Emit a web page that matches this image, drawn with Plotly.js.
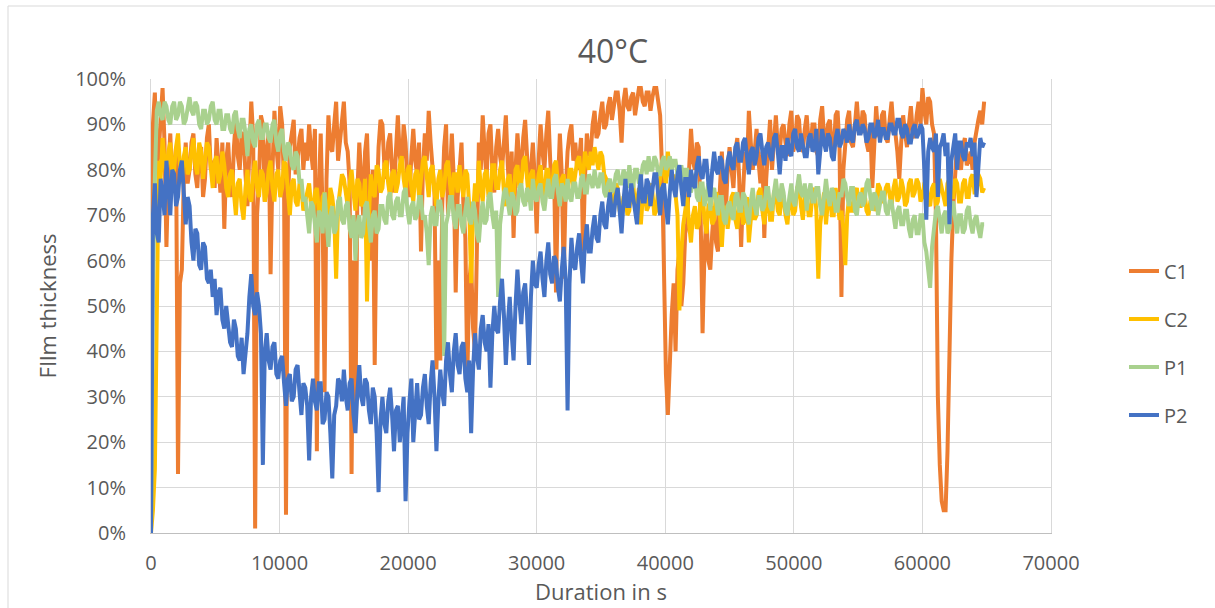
<!DOCTYPE html>
<html><head><meta charset="utf-8">
<script src="https://cdn.plot.ly/plotly-3.0.1.min.js"></script>
<style>html,body{margin:0;padding:0;background:#fff}#chart{width:1215px;height:608px}</style>
</head><body><div id="chart"></div>
<script>
// Sampling interval of the readings (seconds)
const STEP_S = 150;
const seriesNames = ['C1', 'C2', 'P1', 'P2'];
const seriesColors = ['#ED7D31', '#FFC000', '#A9D18E', '#4472C4'];

// Film thickness (%), one value per STEP_S seconds (one row = 3000 s)
const C1 = [
 60,90, 97,80, 84,92, 98,86, 63,80, 88,76, 80,85, 13,55, 58,78, 86,77,
 80,86, 88,79, 76,84, 85,74, 78,87, 90,80, 82,76, 87,81, 75,86, 67,82,
 86,78, 74,85, 91,83, 80,88, 88,79, 72,84, 95,87, 1,70, 78,92, 90,73,
 84,88, 57,80, 93,85, 80,94, 90,76, 4,72, 85,88, 91,79, 82,87, 89,80,
 86,82, 90,84, 80,89, 18,75, 88,70, 31,78, 92,85, 84,90, 95,82, 86,91,
 95,86, 84,77, 13,60, 25,75, 86,78, 70,84, 88,74, 60,80, 37,72, 85,91,
 90,81, 78,86, 88,80, 75,84, 92,83, 80,90, 86,77, 74,83, 89,82, 79,86,
 62,80, 88,82, 93,86, 80,75, 36,60, 38,72, 85,90, 70,80, 88,78, 53,74,
 82,86, 72,65, 34,55, 60,45, 40,70, 86,80, 92,84, 78,88, 90,80, 75,85,
 89,83, 80,86, 92,81, 73,84, 65,80, 88,82, 78,87, 91,83, 74,80, 86,78,
 66,82, 90,84, 80,88, 93,82, 75,80, 53,76, 88,79, 56,75, 84,88, 90,82,
 86,80, 82,87, 62,78, 88,83, 84,90, 93,87, 88,92, 95,89, 90,94, 96,91,
 94,97, 97,93, 86,95, 98,94, 93,96, 97,92, 95,98, 98,95, 94,97, 97,93,
 96,98, 98,94, 92,80, 51,35, 26,38, 48,55, 40,58, 62,50, 55,66, 68,80,
 89,82, 80,86, 85,70, 44,62, 70,60, 58,66, 72,64, 62,76, 84,73, 70,80,
 85,80, 76,84, 87,78, 63,75, 84,80, 93,86, 80,84, 89,82, 77,84, 65,78,
 86,91, 80,87, 92,85, 84,89, 90,86, 83,90, 93,84, 86,92, 91,85, 84,89,
 92,86, 85,90, 90,84, 83,91, 94,87, 86,90, 91,85, 84,92, 93,85, 52,80,
 87,91, 93,86, 85,90, 95,89, 88,93, 92,86, 84,90, 76,85, 94,88, 87,92,
 93,87, 86,91, 95,89, 88,84, 78,86, 92,88, 85,90, 94,88, 87,92, 95,90,
 98,93, 90,96, 95,90, 88,70, 30,15, 7,5, 5,18, 40,60, 72,80, 86,82,
 80,85, 87,81, 82,84, 80,86, 89,91, 93,90, 95
];
const C2 = [
 0,5, 14,45, 82,78, 87,82, 78,84, 86,79, 80,85, 88,81, 77,83, 85,79,
 80,84, 87,81, 79,86, 84,78, 82,86, 85,80, 76,82, 83,77, 79,84, 81,76,
 74,79, 80,75, 70,77, 78,72, 69,76, 80,74, 73,79, 82,76, 74,80, 79,73,
 75,80, 82,76, 73,79, 80,74, 76,82, 81,75, 70,77, 78,73, 72,77, 76,71,
 73,76, 77,72, 70,75, 76,71, 69,74, 75,70, 71,76, 74,70, 56,72, 75,79,
 78,74, 72,77, 80,75, 71,78, 77,72, 73,78, 51,70, 79,75, 74,81, 80,75,
 76,81, 82,77, 74,79, 80,75, 77,81, 83,78, 75,80, 81,76, 73,79, 80,74,
 78,82, 83,77, 74,80, 81,75, 72,78, 80,74, 76,81, 82,77, 73,79, 79,75,
 81,77, 74,80, 79,72, 55,70, 77,73, 82,76, 73,79, 80,74, 75,81, 81,76,
 76,80, 82,75, 72,78, 79,73, 74,80, 81,76, 77,82, 83,78, 73,79, 80,75,
 75,79, 81,76, 73,80, 80,74, 76,81, 82,77, 72,78, 79,74, 74,80, 80,76,
 79,82, 83,79, 78,84, 82,80, 84,81, 85,82, 80,84, 83,79, 78,75, 76,72,
 72,77, 76,71, 70,74, 75,70, 71,76, 77,72, 73,76, 68,74, 76,71, 72,77,
 75,70, 71,76, 78,82, 80,77, 84,80, 76,79, 73,70, 49,62, 68,72, 74,68,
 64,70, 72,67, 68,74, 75,69, 66,72, 73,68, 69,75, 74,70, 63,71, 72,67,
 70,74, 75,69, 67,72, 73,68, 69,74, 64,70, 74,69, 70,75, 76,71, 68,73,
 73,69, 69,75, 76,71, 70,74, 74,70, 68,73, 75,70, 71,76, 77,72, 69,74,
 74,70, 70,75, 76,71, 56,68, 72,75, 68,73, 75,70, 70,76, 73,69, 71,67,
 59,70, 74,71, 71,75, 76,72, 72,76, 75,71, 70,73, 74,71, 72,77, 76,73,
 73,76, 77,74, 72,76, 78,73, 74,78, 76,72, 73,77, 78,74, 75,78, 77,73,
 74,77, 78,73, 72,76, 77,72, 73,78, 76,73, 72,77, 78,74, 74,78, 77,73,
 73,77, 78,74, 74,78, 79,75, 75,79, 78,75, 76
];
const P1 = [
 0,55, 78,93, 95,92, 91,95, 94,91, 90,94, 95,91, 92,95, 94,90, 91,94,
 96,93, 92,95, 94,90, 89,93, 93,90, 91,94, 95,91, 90,93, 93,89, 89,92,
 92,89, 88,92, 93,89, 87,91, 91,88, 83,89, 90,86, 85,90, 91,87, 87,90,
 90,87, 86,90, 91,86, 84,88, 89,84, 82,86, 85,81, 80,84, 83,77, 78,73,
 74,70, 66,73, 72,68, 64,71, 70,66, 75,69, 63,70, 72,66, 67,73, 74,69,
 68,72, 73,67, 65,70, 60,68, 70,65, 66,72, 73,68, 64,70, 71,66, 67,72,
 72,69, 68,74, 75,70, 69,73, 74,70, 70,75, 76,71, 68,72, 73,69, 70,74,
 74,69, 70,66, 59,70, 72,68, 68,73, 73,70, 39,68, 70,74, 74,69, 67,72,
 72,68, 66,71, 74,69, 68,73, 71,66, 64,70, 73,68, 69,74, 75,70, 67,71,
 52,68, 72,75, 76,72, 70,75, 74,70, 71,76, 77,73, 72,76, 75,71, 78,74,
 73,76, 77,73, 71,75, 78,74, 74,78, 79,75, 72,77, 76,73, 78,74, 73,77,
 77,74, 74,78, 79,75, 75,79, 78,76, 80,77, 76,79, 79,75, 74,77, 78,75,
 76,79, 80,77, 77,80, 79,76, 81,78, 76,80, 80,77, 78,81, 82,79, 83,80,
 80,83, 82,79, 79,82, 83,80, 81,83, 80,82, 82,79, 79,81, 77,80, 80,76,
 75,78, 79,74, 73,77, 77,72, 74,77, 71,75, 76,72, 70,74, 74,69, 68,72,
 73,70, 69,74, 75,71, 71,75, 74,70, 68,73, 76,72, 70,74, 74,71, 72,76,
 76,72, 71,75, 78,74, 73,77, 75,71, 70,74, 77,73, 72,76, 79,75, 74,77,
 71,75, 77,73, 73,76, 76,72, 70,74, 78,74, 72,76, 75,71, 71,75, 74,78,
 77,74, 72,76, 76,71, 70,74, 75,72, 73,77, 78,74, 71,75, 74,70, 72,75,
 75,71, 70,73, 73,69, 67,71, 72,68, 68,71, 71,67, 65,69, 70,66, 66,70,
 70,64, 62,58, 54,63, 68,71, 72,68, 66,70, 71,66, 67,72, 73,69, 66,70,
 70,66, 67,71, 72,68, 66,69, 70,67, 65,68, 68
];
const P2 = [
 0,70, 77,66, 64,78, 75,70, 82,76, 70,80, 79,72, 74,80, 82,75, 68,74,
 72,64, 60,67, 66,59, 58,64, 63,56, 55,58, 52,56, 48,53, 54,47, 45,50,
 46,42, 41,47, 45,39, 38,43, 35,40, 44,52, 57,50, 48,53, 50,44, 15,40,
 44,38, 36,41, 42,35, 34,38, 39,33, 28,34, 35,29, 30,36, 37,31, 26,33,
 32,28, 16,30, 34,29, 27,33, 33,24, 25,31, 30,22, 12,26, 28,34, 33,29,
 36,30, 27,33, 34,26, 22,31, 37,30, 28,34, 33,27, 24,32, 30,22, 9,25,
 30,24, 22,29, 32,26, 18,27, 28,20, 24,30, 7,22, 29,34, 20,28, 33,25,
 26,32, 35,28, 24,33, 38,30, 18,29, 36,31, 28,38, 42,35, 31,40, 44,37,
 35,41, 42,34, 31,38, 22,36, 44,39, 36,45, 48,42, 40,46, 32,44, 50,45,
 44,51, 56,48, 37,46, 52,44, 38,50, 58,51, 46,53, 55,48, 37,52, 60,55,
 54,59, 62,56, 52,60, 64,57, 55,61, 60,54, 51,58, 63,56, 27,55, 65,59,
 58,63, 66,60, 55,64, 68,62, 62,67, 70,65, 64,70, 73,68, 67,72, 75,70,
 70,74, 76,71, 66,73, 78,72, 72,77, 74,70, 68,75, 79,73, 73,78, 77,72,
 75,79, 79,74, 70,76, 77,72, 68,75, 80,76, 74,79, 81,76, 72,78, 78,74,
 80,77, 76,81, 83,79, 78,82, 82,77, 74,80, 84,80, 79,83, 82,78, 77,82,
 84,81, 80,85, 86,82, 82,86, 87,83, 79,84, 85,81, 83,87, 88,84, 81,85,
 86,83, 82,87, 88,84, 79,85, 85,82, 87,84, 83,88, 89,85, 84,88, 86,83,
 83,87, 88,84, 85,89, 79,85, 89,86, 84,88, 87,83, 82,87, 89,85, 86,89,
 88,86, 90,87, 86,90, 91,88, 88,90, 89,86, 87,90, 90,87, 88,91, 86,89,
 89,87, 87,90, 90,88, 88,91, 91,88, 87,90, 89,86, 86,89, 90,87, 88,90,
 89,80, 69,84, 87,85, 84,88, 74,85, 86,88, 83,86, 68,82, 85,88, 80,86,
 86,83, 82,86, 85,87, 83,86, 74,82, 87,85, 86
];

const xTickVals = [0, 10000, 20000, 30000, 40000, 50000, 60000, 70000];
const xTickText = ['0', '10000', '20000', '30000', '40000', '50000', '60000', '70000'];
const yTickVals = [0, 10, 20, 30, 40, 50, 60, 70, 80, 90, 100];
const yTickText = ['0%', '10%', '20%', '30%', '40%', '50%', '60%', '70%', '80%', '90%', '100%'];

const seriesValues = [C1, C2, P1, P2];
const FONT = '"Open Sans", "Noto Sans", sans-serif';
const TXT = '#595959';

const traces = seriesValues.map((vals, k) => ({
  type: 'scatter',
  mode: 'lines',
  name: seriesNames[k],
  legendgroup: seriesNames[k],
  x: vals.map((_, i) => i * STEP_S),
  y: vals,
  line: {color: seriesColors[k], width: 4},
  hoverinfo: 'x+y+name'
}));

const layout = {
  width: 1215, height: 608,
  paper_bgcolor: '#ffffff', plot_bgcolor: '#ffffff',
  margin: {l: 151, r: 164, t: 79, b: 75},
  font: {family: FONT, color: TXT, size: 20},
  title: {
    text: '40°C',
    font: {family: FONT, size: 32, color: TXT},
    x: 613 / 1215, xref: 'container', xanchor: 'center',
    y: 1 - 52 / 608, yref: 'container', yanchor: 'middle'
  },
  xaxis: {
    range: [0, 70000],
    tickvals: xTickVals, ticktext: xTickText,
    showgrid: true, gridcolor: '#D9D9D9', gridwidth: 1,
    zeroline: false,
    showline: true, linecolor: '#BFBFBF', linewidth: 1,
    ticks: '', ticklabelstandoff: 12,
    tickfont: {family: FONT, size: 20, color: TXT},
    title: {text: 'Duration in s', font: {family: FONT, size: 22, color: TXT}, standoff: 4},
    automargin: false
  },
  yaxis: {
    range: [0, 100],
    tickvals: yTickVals, ticktext: yTickText,
    showgrid: true, gridcolor: '#D9D9D9', gridwidth: 1,
    zeroline: false,
    showline: true, linecolor: '#D9D9D9', linewidth: 1, mirror: true,
    ticks: '', ticklabelstandoff: 20,
    tickfont: {family: FONT, size: 20, color: TXT},
    title: {text: 'FIlm thickness', font: {family: FONT, size: 22, color: TXT}, standoff: 12},
    automargin: false
  },
  showlegend: true,
  legend: {
    x: (1124 - 151) / 900, xanchor: 'left',
    y: (533 - 343) / 454, yanchor: 'middle',
    traceorder: 'grouped', tracegroupgap: 19,
    font: {family: FONT, size: 20, color: TXT},
    bgcolor: 'rgba(0,0,0,0)', borderwidth: 0
  },
  shapes: [{
    type: 'rect', xref: 'paper', yref: 'paper',
    x0: (8 - 151) / 900, x1: 1.3, y0: -0.3, y1: (533 - 6) / 454,
    line: {color: '#D9D9D9', width: 1}, fillcolor: 'rgba(0,0,0,0)', layer: 'below'
  }]
};

Plotly.newPlot('chart', traces, layout, {displayModeBar: false, staticPlot: true});
</script>
</body></html>
